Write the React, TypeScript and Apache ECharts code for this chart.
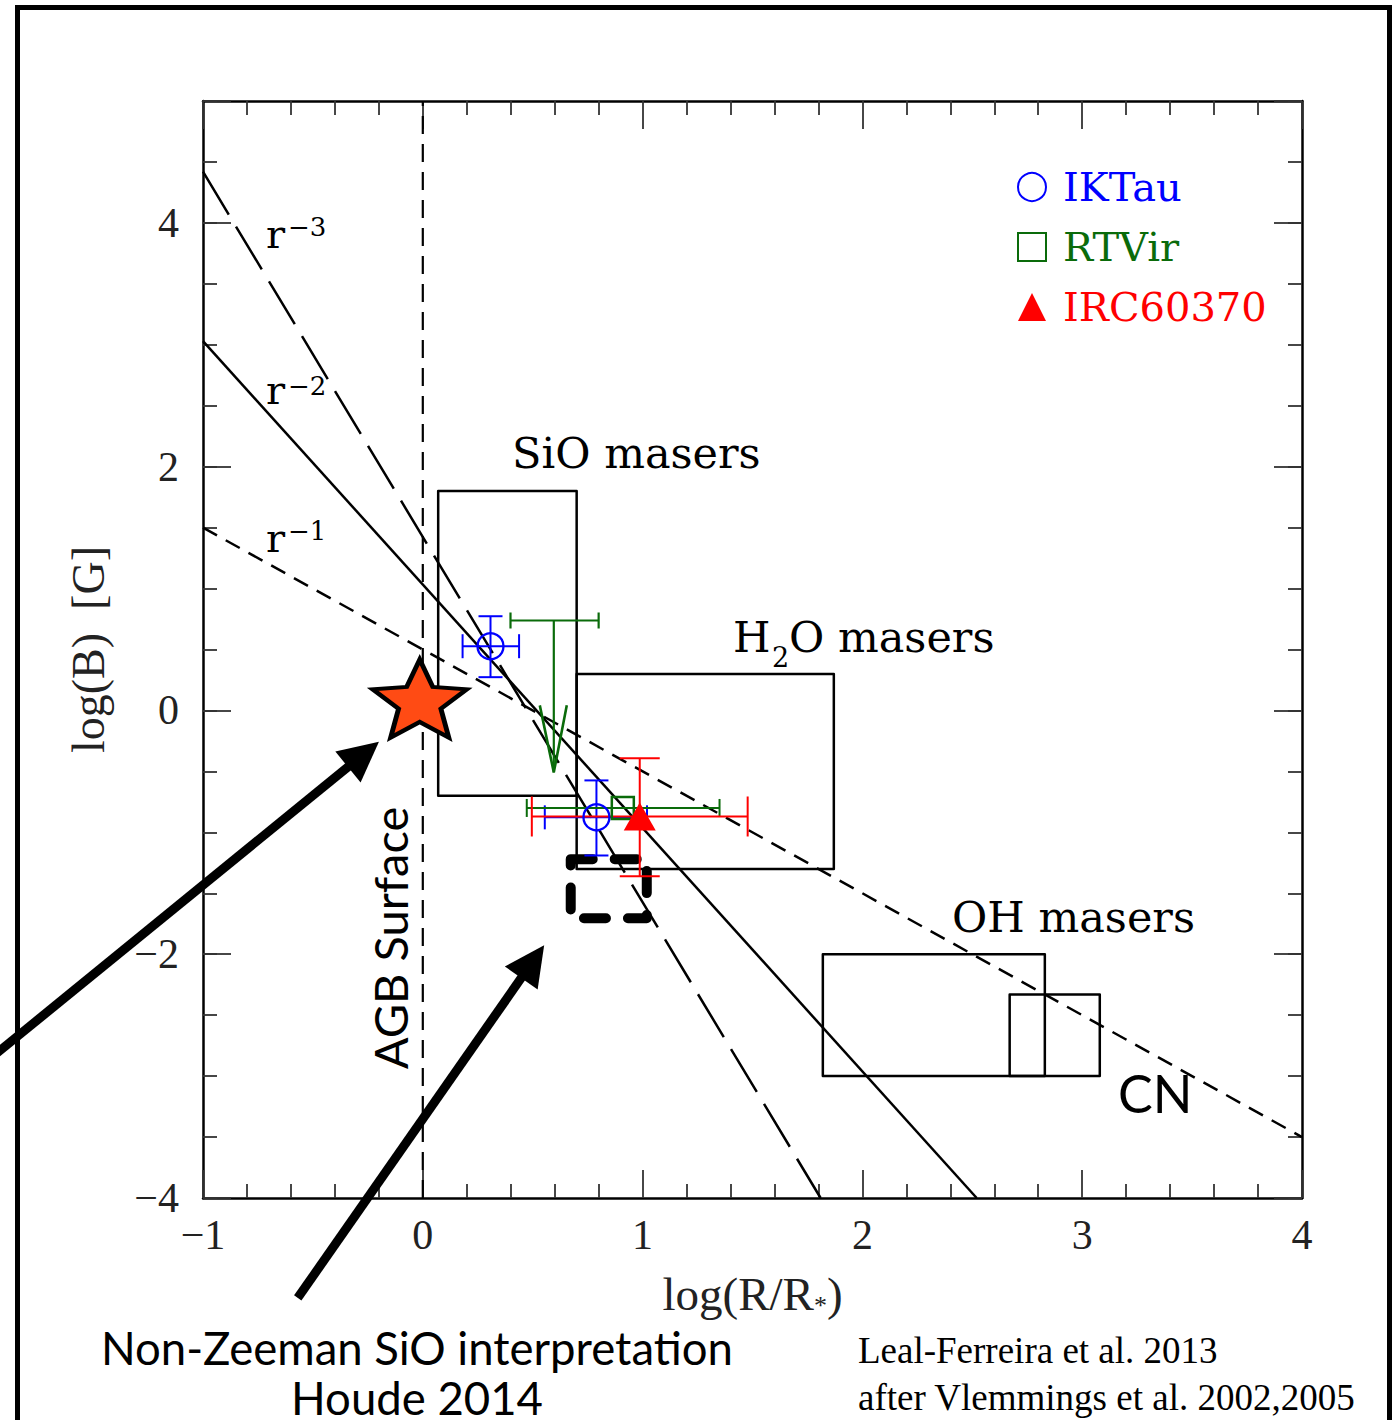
import React, { useEffect, useRef } from 'react';
import * as echarts from 'echarts';

// ---------- data ----------
const xTickLabels = ['\u22121', '0', '1', '2', '3', '4'];
const yTickLabels = ['\u22124', '\u22122', '0', '2', '4'];

const agbSurface = [[0, -4], [0, 5]];
const r3Line = [[-1, 4.42], [1.81, -4]];
const r2Line = [[-1, 3.03], [2.52, -4]];
const r1Line = [[-1, 1.5], [4, -3.5]];

// [x0, x1, y0, y1]
const maserBoxes = [
  [0.07, 0.70, -0.70, 1.80],   // SiO
  [0.70, 1.87, -1.30, 0.30],   // H2O
  [1.82, 2.83, -3.0, -2.0],    // OH
  [2.67, 3.08, -3.0, -2.33],   // CN
];
const houdeBox = [[0.673, 1.019, -1.705, -1.22]];

// [x, y, xLow, xHigh, yLow, yHigh]
const ikTau = [
  [0.308, 0.527, 0.181, 0.438, 0.273, 0.773],
  [0.79, -0.877, 0.555, 1.02, -1.19, -0.574],
];
const rtVir = [[0.91, -0.80, 0.473, 1.35, -0.80, -0.80]];
// [x, y, xLow, xHigh, arrowTipY]
const rtVirLimit = [[0.596, 0.738, 0.399, 0.80, -0.508]];
const irc60370 = [[0.987, -0.87, 0.496, 1.478, -1.36, -0.393]];

const starPoint = [[-0.014, 0.098]];
const arrowCoords = [
  [[-2.016, -2.926], [-0.27, -0.36]],
  [[-0.569, -4.82], [0.50, -2.06]],
];

const BLUE = '#0000ff';
const GREEN = '#0a6b0a';
const RED = '#ff0000';

const STAR_PATH =
  'path://M50 0 L63.23 31.8 L97.55 34.55 L71.4 56.95 L79.39 90.45 L50 72.5 L20.61 90.45 L28.6 56.95 L2.45 34.55 L36.77 31.8 Z';

function errRender(cap: number, color: string) {
  return (params: any, api: any) => {
    const x = api.value(0), y = api.value(1);
    const xl = api.value(2), xh = api.value(3), yl = api.value(4), yh = api.value(5);
    const pL = api.coord([xl, y]);
    const pR = api.coord([xh, y]);
    const style = { stroke: color, lineWidth: 2 };
    const children: any[] = [
      { type: 'line', shape: { x1: pL[0], y1: pL[1], x2: pR[0], y2: pR[1] }, style },
      { type: 'line', shape: { x1: pL[0], y1: pL[1] - cap, x2: pL[0], y2: pL[1] + cap }, style },
      { type: 'line', shape: { x1: pR[0], y1: pR[1] - cap, x2: pR[0], y2: pR[1] + cap }, style },
    ];
    if (yh > yl) {
      const pB = api.coord([x, yl]);
      const pT = api.coord([x, yh]);
      children.push(
        { type: 'line', shape: { x1: pB[0], y1: pB[1], x2: pT[0], y2: pT[1] }, style },
        { type: 'line', shape: { x1: pB[0] - cap, y1: pB[1], x2: pB[0] + cap, y2: pB[1] }, style },
        { type: 'line', shape: { x1: pT[0] - cap, y1: pT[1], x2: pT[0] + cap, y2: pT[1] }, style },
      );
    }
    return { type: 'group', children };
  };
}

function limitRender(params: any, api: any) {
  const x = api.value(0), y = api.value(1);
  const xl = api.value(2), xh = api.value(3), tip = api.value(4);
  const pL = api.coord([xl, y]);
  const pR = api.coord([xh, y]);
  const pTop = api.coord([x, y]);
  const pTip = api.coord([x, tip]);
  const cap = 8;
  const style = { stroke: GREEN, lineWidth: 2.2 };
  return {
    type: 'group',
    children: [
      { type: 'line', shape: { x1: pL[0], y1: pL[1], x2: pR[0], y2: pR[1] }, style },
      { type: 'line', shape: { x1: pL[0], y1: pL[1] - cap, x2: pL[0], y2: pL[1] + cap }, style },
      { type: 'line', shape: { x1: pR[0], y1: pR[1] - cap, x2: pR[0], y2: pR[1] + cap }, style },
      { type: 'line', shape: { x1: pTop[0], y1: pTop[1], x2: pTip[0], y2: pTip[1] }, style },
      {
        type: 'polyline',
        shape: { points: [[pTip[0] - 14, pTip[1] - 67], [pTip[0], pTip[1]], [pTip[0] + 13, pTip[1] - 67]] },
        style: { stroke: GREEN, lineWidth: 2.6, fill: 'none' },
      },
    ],
  };
}

function rectRender(width: number, dash: any) {
  return (params: any, api: any) => {
    const p0 = api.coord([api.value(0), api.value(3)]);
    const p1 = api.coord([api.value(1), api.value(2)]);
    return {
      type: 'rect',
      shape: { x: p0[0], y: p0[1], width: p1[0] - p0[0], height: p1[1] - p0[1] },
      style: { fill: 'none', stroke: '#000', lineWidth: width, lineDash: dash, lineCap: 'round', lineJoin: 'round' },
    };
  };
}

const SERIF = '"DejaVu Serif", serif';
const TNR = '"Liberation Serif", serif';
const SANS = 'Lato, "Open Sans", sans-serif';

function txt(text: string, x: number, y: number, font: string, extra: any = {}) {
  return {
    type: 'text',
    x,
    y,
    silent: true,
    rotation: extra.rotation || 0,
    style: {
      text,
      font,
      fill: '#000',
      textAlign: extra.align || 'left',
      textVerticalAlign: 'middle',
    },
  };
}

export default function App() {
  const ref = useRef<HTMLDivElement>(null);
  useEffect(() => {
    if (!ref.current) return;
    const chart = echarts.init(ref.current, undefined, { renderer: 'svg' });

    const tickLine = { color: '#333', width: 1.8 };
    const axisLine = { show: true, onZero: false, lineStyle: { color: '#000', width: 2.5 } };
    const labelStyle = { fontFamily: TNR, fontSize: 42, color: '#222' };

    const xBase = {
      type: 'value',
      min: -1,
      max: 4,
      interval: 1,
      axisLine,
      splitLine: { show: false },
      axisTick: { show: true, inside: true, length: 28, lineStyle: tickLine },
      minorTick: { show: true, splitNumber: 5, length: 14, lineStyle: tickLine },
    };
    const yMajor = {
      type: 'value',
      min: -4,
      max: 5,
      interval: 2,
      axisLine,
      splitLine: { show: false },
      axisTick: { show: true, inside: true, length: 28, lineStyle: tickLine },
    };
    const yMinor = {
      type: 'value',
      min: -4,
      max: 5,
      interval: 0.5,
      axisLine: { show: false, onZero: false },
      splitLine: { show: false },
      axisLabel: { show: false },
      axisTick: { show: true, inside: true, length: 14, lineStyle: tickLine },
    };

    const option: any = {
      animation: false,
      backgroundColor: '#fff',
      grid: { left: 203, top: 101, width: 1099, height: 1097 },
      xAxis: [
        {
          ...xBase,
          position: 'bottom',
          axisLabel: {
            ...labelStyle,
            margin: 16,
            formatter: (v: number) => xTickLabels[Math.round(v + 1)] ?? '',
          },
          name: 'log(R/R{s|*})',
          nameLocation: 'middle',
          nameGap: 72,
          nameTextStyle: {
            fontFamily: TNR,
            fontSize: 47,
            color: '#222',
            rich: { s: { fontFamily: TNR, fontSize: 26, color: '#222', padding: [22, 0, 0, 0] } },
          },
        },
        { ...xBase, position: 'top', axisLabel: { show: false } },
      ],
      yAxis: [
        {
          ...yMajor,
          position: 'left',
          axisLabel: {
            ...labelStyle,
            margin: 24,
            formatter: (v: number) => {
              const i = (v + 4) / 2;
              return Number.isInteger(i) ? yTickLabels[i] ?? '' : '';
            },
          },
          name: 'log(B)  [G]',
          nameLocation: 'middle',
          nameRotate: 90,
          nameGap: 92,
          nameTextStyle: { fontFamily: TNR, fontSize: 46, color: '#222' },
        },
        { ...yMinor, position: 'left' },
        { ...yMajor, position: 'right', axisLabel: { show: false } },
        { ...yMinor, position: 'right' },
      ],
      legend: {
        orient: 'vertical',
        left: 1012,
        top: 162,
        itemWidth: 28,
        itemHeight: 28,
        itemGap: 20,
        selectedMode: false,
        textStyle: { fontFamily: SERIF, fontSize: 40, lineHeight: 40, padding: [0, 0, 0, 12] },
        data: [
          { name: 'IKTau', textStyle: { color: BLUE } },
          { name: 'RTVir', textStyle: { color: GREEN } },
          { name: 'IRC60370', textStyle: { color: RED } },
        ],
      },
      series: [
        {
          type: 'line',
          name: 'AGB Surface',
          data: agbSurface,
          symbol: 'none',
          silent: true,
          lineStyle: { color: '#000', width: 2.2, type: [18, 10] },
          z: 1,
        },
        {
          type: 'line',
          name: 'r-3',
          data: r3Line,
          symbol: 'none',
          silent: true,
          lineStyle: { color: '#000', width: 2.5, type: [50, 14] },
          z: 1,
        },
        {
          type: 'line',
          name: 'r-2',
          data: r2Line,
          symbol: 'none',
          silent: true,
          lineStyle: { color: '#000', width: 2.5 },
          z: 1,
        },
        {
          type: 'line',
          name: 'r-1',
          data: r1Line,
          symbol: 'none',
          silent: true,
          lineStyle: { color: '#000', width: 2.5, type: [16, 10] },
          z: 1,
        },
        {
          type: 'custom',
          name: 'masers',
          data: maserBoxes,
          renderItem: rectRender(2.5, null),
          silent: true,
          z: 1,
        },
        {
          type: 'custom',
          name: 'houde',
          data: houdeBox,
          renderItem: rectRender(10, [22, 22]),
          silent: true,
          z: 2,
        },
        { type: 'custom', name: 'ikTauErr', data: ikTau, renderItem: errRender(12, BLUE), silent: true, z: 4 },
        { type: 'custom', name: 'rtVirErr', data: rtVir, renderItem: errRender(9, GREEN), silent: true, z: 4 },
        { type: 'custom', name: 'rtVirLim', data: rtVirLimit, renderItem: limitRender, silent: true, z: 4 },
        { type: 'custom', name: 'ircErr', data: irc60370, renderItem: errRender(20, RED), silent: true, z: 4 },
        {
          type: 'scatter',
          name: 'IKTau',
          data: ikTau.map((d) => [d[0], d[1]]),
          symbol: 'circle',
          symbolSize: 26,
          itemStyle: { color: 'rgba(255,255,255,0)', borderColor: BLUE, borderWidth: 2.3, opacity: 1 },
          z: 5,
        },
        {
          type: 'scatter',
          name: 'RTVir',
          data: rtVir.map((d) => [d[0], d[1]]),
          symbol: 'rect',
          symbolSize: 22,
          itemStyle: { color: 'rgba(255,255,255,0)', borderColor: GREEN, borderWidth: 2.5, opacity: 1 },
          z: 5,
        },
        {
          type: 'scatter',
          name: 'IRC60370',
          data: irc60370.map((d) => [d[0], d[1]]),
          symbol: 'triangle',
          symbolSize: [32, 28],
          itemStyle: { color: RED, opacity: 1 },
          z: 5,
        },
        {
          type: 'scatter',
          name: 'star',
          data: starPoint,
          symbol: STAR_PATH,
          symbolSize: [94, 78],
          itemStyle: { color: '#ff4b14', borderColor: '#000', borderWidth: 4.5, opacity: 1 },
          silent: true,
          z: 6,
        },
        {
          type: 'lines',
          name: 'arrows',
          coordinateSystem: 'cartesian2d',
          clip: false,
          silent: true,
          symbol: ['none', 'triangle'],
          symbolSize: [34, 40],
          lineStyle: { color: '#000', width: 9, opacity: 1, curveness: 0 },
          data: arrowCoords.map((c) => ({ coords: c })),
          z: 7,
        },
      ],
      graphic: [
        {
          type: 'rect',
          silent: true,
          shape: { x: 17.5, y: 7.5, width: 1372, height: 1500 },
          style: { fill: 'none', stroke: '#000', lineWidth: 5 },
        },
        txt('r', 266, 234, `40px ${SERIF}`),
        txt('\u22123', 288, 227, `26px ${SERIF}`),
        txt('r', 266, 390, `40px ${SERIF}`),
        txt('\u22122', 288, 386, `26px ${SERIF}`),
        txt('r', 266, 538, `40px ${SERIF}`),
        txt('\u22121', 288, 531, `26px ${SERIF}`),
        txt('SiO masers', 512, 453, `43px ${SERIF}`),
        txt('H', 733, 637, `43px ${SERIF}`),
        txt('2', 772, 657, `27px ${SERIF}`),
        txt('O masers', 789, 637, `43px ${SERIF}`),
        txt('OH masers', 952, 917, `43px ${SERIF}`),
        txt('CN', 1118, 1093, `52px ${SANS}`),
        txt('AGB Surface', 390, 938, `47px ${SANS}`, { rotation: Math.PI / 2, align: 'center' }),
        txt('Non-Zeeman SiO interpretation', 417, 1347, `45.5px ${SANS}`, { align: 'center' }),
        txt('Houde 2014', 417, 1397, `45.5px ${SANS}`, { align: 'center' }),
        txt('Leal-Ferreira et al. 2013', 858, 1350, `37px ${TNR}`),
        txt('after Vlemmings et al. 2002,2005', 858, 1397, `37px ${TNR}`),
      ],
    };

    chart.setOption(option);
    return () => chart.dispose();
  }, []);

  return (
    <div
      ref={ref}
      style={{ position: 'absolute', left: 0, top: 0, width: 1398, height: 1420, background: '#fff' }}
    />
  );
}
